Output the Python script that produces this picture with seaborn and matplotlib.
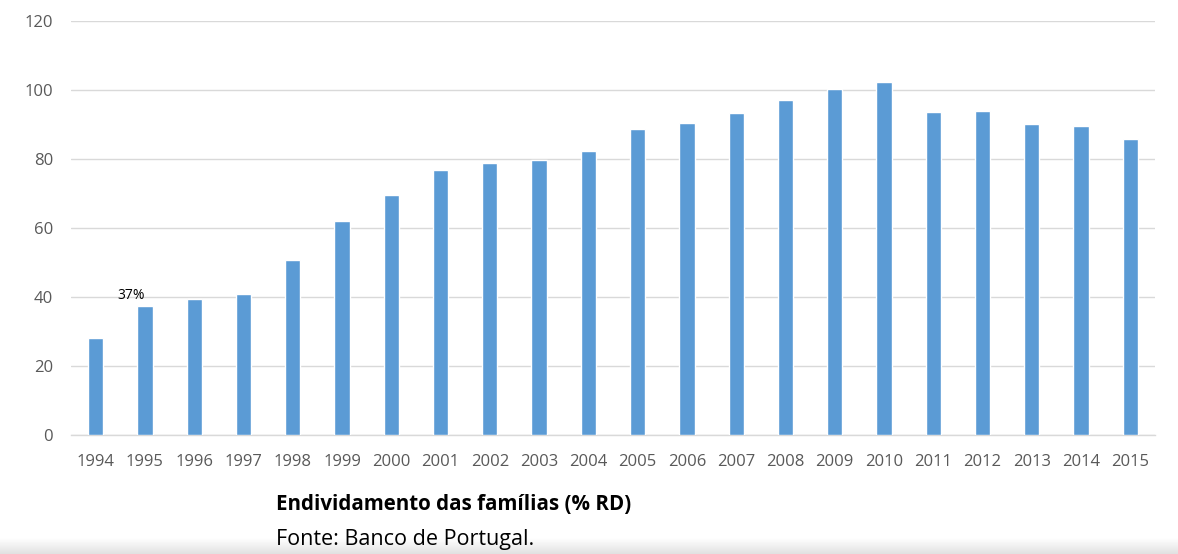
import matplotlib
matplotlib.use('Agg')
import matplotlib.pyplot as plt
import numpy as np
import pandas as pd
import seaborn as sns

# Data
years = [str(y) for y in range(1994, 2016)]
debt = [28.1, 37.4, 39.4, 40.9, 50.6, 62.0, 69.6, 76.8, 78.7, 79.6, 82.3,
        88.6, 90.5, 93.2, 97.1, 100.2, 102.4, 93.6, 94.0, 90.1, 89.6, 85.8]
label_year = '1995'
label_text = '37%'
caption_title = 'Endividamento das famílias (% RD)'
caption_source = 'Fonte: Banco de Portugal.'

df = pd.DataFrame({'year': years, 'debt': debt})

sns.set_style('white')
plt.rcParams['font.family'] = ['Open Sans', 'DejaVu Sans']

fig = plt.figure(figsize=(11.78, 5.54), dpi=100)
ax = fig.add_axes([71 / 1178, 1 - 435 / 554, (1155 - 71) / 1178, (435 - 21) / 554])

sns.barplot(data=df, x='year', y='debt', color='#5B9BD5', width=0.31,
            saturation=1, ax=ax, zorder=3)

ax.set_ylim(0, 120)
ax.set_yticks(range(0, 121, 20))
ax.set_xlim(-0.5, len(years) - 0.5)
ax.yaxis.grid(True, color='#D9D9D9', linewidth=1)
ax.set_axisbelow(True)
for s in ['top', 'right', 'left']:
    ax.spines[s].set_visible(False)
ax.spines['bottom'].set_color('#D9D9D9')
ax.spines['bottom'].set_linewidth(1)
ax.tick_params(axis='both', length=0, labelsize=12, labelcolor='#595959')
ax.tick_params(axis='y', pad=13)
ax.tick_params(axis='x', pad=14)
ax.set_xlabel('')
ax.set_ylabel('')

# data label over 1995
xi = years.index(label_year)
ax.text(xi - 0.28, debt[xi] + 0.9, label_text, ha='center', va='bottom',
        fontsize=10, color='black')

# caption below the chart
fig.text(276 / 1178, 1 - 510 / 554, caption_title, fontsize=14.8,
         fontweight='bold', color='black', va='baseline')
fig.text(276 / 1178, 1 - 545 / 554, caption_source, fontsize=15.5,
         color='black', va='baseline')

# faint grey band at the bottom edge
band = fig.add_axes([0, 0, 1, 16 / 554], zorder=-1)
grad = np.linspace(1.0, 0.88, 50).reshape(-1, 1)
band.imshow(grad, aspect='auto', cmap='gray', vmin=0, vmax=1,
            extent=[0, 1, 0, 1], origin='upper')
band.axis('off')

fig.savefig('out.png', dpi=100)
